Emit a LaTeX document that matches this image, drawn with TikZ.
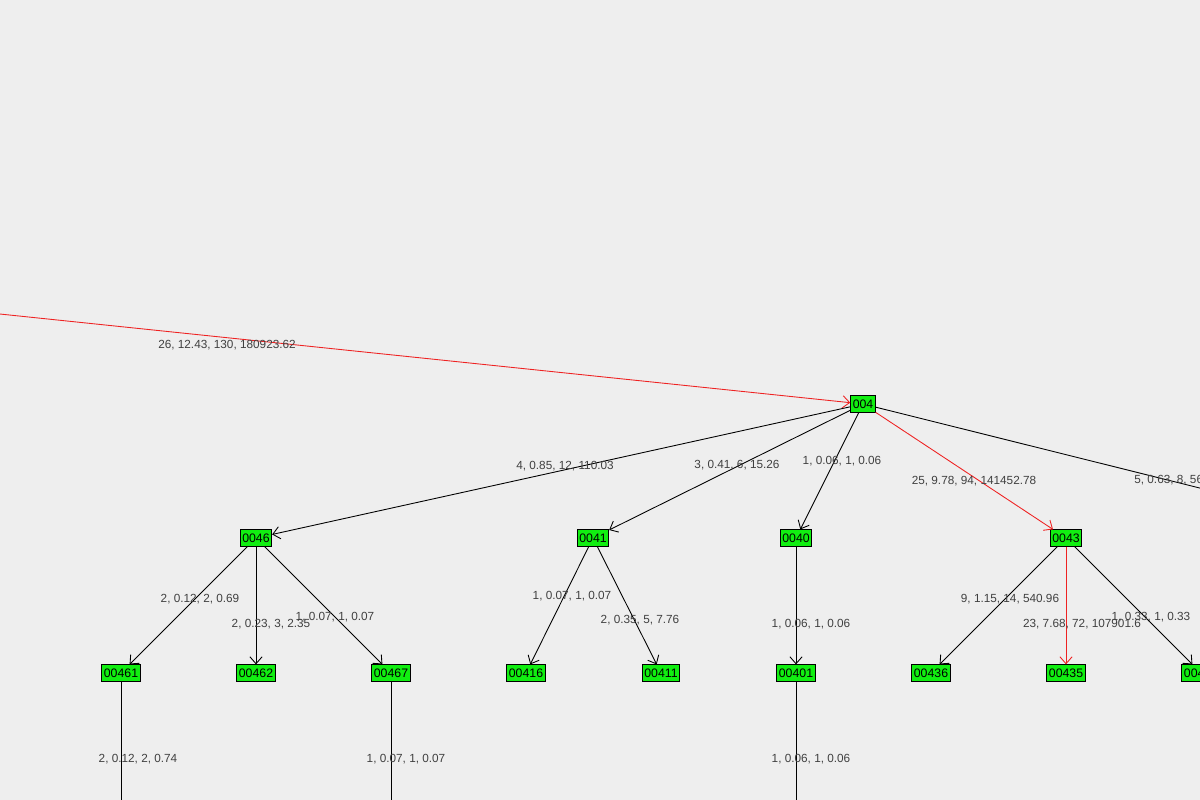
\documentclass[tikz,border=0pt]{standalone}
\usepackage{fontspec}
\setmainfont{Liberation Sans}
\usetikzlibrary{arrows.meta}
\definecolor{bgray}{HTML}{EEEEEE}
\definecolor{nodegreen}{HTML}{11EE11}
\definecolor{hotred}{HTML}{EE2222}
\tikzset{
  vertex/.style={rectangle, draw, fill=nodegreen, inner sep=1.2pt, minimum height=0.33cm, font=\fontsize{7}{8}\selectfont},
  edge/.style={draw, -{Straight Barb[length=4pt,width=7pt]}, line width=0.5pt},
  hot/.style={edge, hotred},
  lbl/.style={font=\fontsize{6.7}{7}\selectfont, text=black!75, inner sep=0pt}
}
\begin{document}
\begin{tikzpicture}[x=0.02cm, y=-0.02cm]
    \fill[bgray] (0,0) rectangle (1200,800);
    \clip (0,0) rectangle (1200,800);
    % levels
    \node(n004)[vertex] at (863,404) {004};
    \node(n0046)[vertex] at (256,538) {0046};
    \node(n0041)[vertex] at (593,538) {0041};
    \node(n0040)[vertex] at (796,538) {0040};
    \node(n0043)[vertex] at (1066,538) {0043};
    \node(n0044)[vertex] at (1400,538) {0044};
    \node(n00461)[vertex] at (121,673) {00461};
    \node(n00462)[vertex] at (256,673) {00462};
    \node(n00467)[vertex] at (391,673) {00467};
    \node(n00416)[vertex] at (526,673) {00416};
    \node(n00411)[vertex] at (661,673) {00411};
    \node(n00401)[vertex] at (796,673) {00401};
    \node(n00436)[vertex] at (931,673) {00436};
    \node(n00435)[vertex] at (1066,673) {00435};
    \node(n00431)[vertex] at (1201,673) {00431};
    \coordinate (root) at (-100,303.6);
    \coordinate (d1) at (121,830);
    \coordinate (d7) at (391,830);
    \coordinate (d0) at (796,830);
    % edges
    \draw[hot] (root) -- (n004);
    \draw[edge] (n004) -- (n0046);
    \draw[edge] (n004) -- (n0041);
    \draw[edge] (n004) -- (n0040);
    \draw[hot] (n004) -- (n0043);
    \draw[edge] (n004) -- (n0044);
    \draw[edge] (n0046) -- (n00461);
    \draw[edge] (n0046) -- (n00462);
    \draw[edge] (n0046) -- (n00467);
    \draw[edge] (n0041) -- (n00416);
    \draw[edge] (n0041) -- (n00411);
    \draw[edge] (n0040) -- (n00401);
    \draw[edge] (n0043) -- (n00436);
    \draw[hot] (n0043) -- (n00435);
    \draw[edge] (n0043) -- (n00431);
    \draw (n00461) -- (d1);
    \draw (n00467) -- (d7);
    \draw (n00401) -- (d0);
    % labels
    \node[lbl] at (227,345) {26, 12.43, 130, 180923.62};
    \node[lbl] at (565,466) {4, 0.85, 12, 110.03};
    \node[lbl] at (737,465) {3, 0.41, 6, 15.26};
    \node[lbl] at (842,461) {1, 0.06, 1, 0.06};
    \node[lbl] at (974,481) {25, 9.78, 94, 141452.78};
    \node[lbl, anchor=west] at (1134,480) {5, 0.63, 8, 56.15};
    \node[lbl] at (200,599) {2, 0.12, 2, 0.69};
    \node[lbl] at (271,624) {2, 0.23, 3, 2.35};
    \node[lbl] at (335,617) {1, 0.07, 1, 0.07};
    \node[lbl] at (572,596) {1, 0.07, 1, 0.07};
    \node[lbl] at (640,620) {2, 0.35, 5, 7.76};
    \node[lbl] at (811,624) {1, 0.06, 1, 0.06};
    \node[lbl] at (1010,599) {9, 1.15, 14, 540.96};
    \node[lbl] at (1082,624) {23, 7.68, 72, 107901.6};
    \node[lbl] at (1151,617) {1, 0.33, 1, 0.33};
    \node[lbl] at (138,759) {2, 0.12, 2, 0.74};
    \node[lbl] at (406,759) {1, 0.07, 1, 0.07};
    \node[lbl] at (811,759) {1, 0.06, 1, 0.06};
\end{tikzpicture}
\end{document}
